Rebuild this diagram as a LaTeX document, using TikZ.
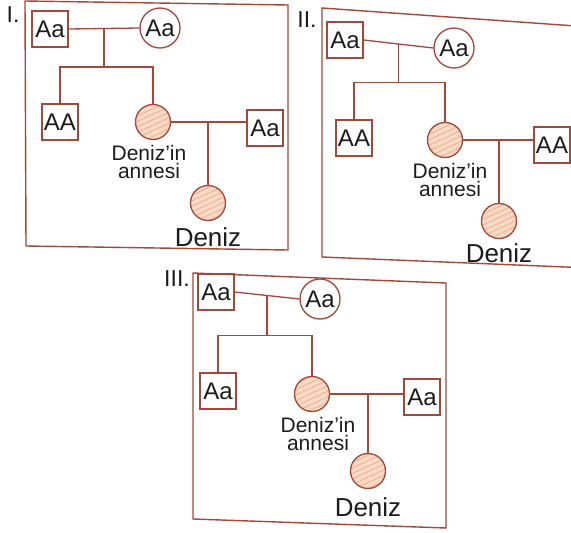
\documentclass[tikz,border=0pt]{standalone}
\usepackage{fontspec}
\setmainfont{Liberation Sans}
\usetikzlibrary{positioning,calc,patterns.meta}
\definecolor{pedline}{HTML}{A5473A}
\definecolor{pedfill}{HTML}{F8DAC4}
\definecolor{pedstripe}{HTML}{EDB294}
\definecolor{pedtext}{HTML}{1C1C1C}
\tikzset{
  male/.style={draw=pedline, line width=1.3pt, minimum width=36pt, minimum height=36pt,
               inner sep=1pt, font=\fontsize{24}{24}\selectfont, text=pedtext},
  female/.style={circle, draw=pedline, line width=1.3pt, minimum size=40pt,
                 inner sep=0pt, font=\fontsize{24}{24}\selectfont, text=pedtext},
  affected/.style={circle, draw=pedline, line width=1.3pt, minimum size=35pt,
                   preaction={fill=pedfill},
                   pattern={Lines[angle=25, distance=5pt, line width=0.9pt]}, pattern color=pedstripe},
  pedwire/.style={draw=pedline, line width=1.3pt},
  panelframe/.style={draw=pedline, line width=1.4pt},
  momlabel/.style={align=center, font=\fontsize{21}{18}\selectfont, text=pedtext, inner sep=0pt},
  kidlabel/.style={font=\fontsize{26}{26}\selectfont, text=pedtext, inner sep=0pt},
  panellabel/.style={font=\fontsize{23}{23}\selectfont, text=pedtext, inner sep=0pt},
}
\begin{document}
\begin{tikzpicture}[x=1pt, y=-1pt]
  \useasboundingbox[fill=white] (0,0) rectangle (571,533);
  \clip (0,0) rectangle (571,533);
  % frames
  \draw[panelframe] (25,1) -- (288,5) -- (288,250) -- (26,246) -- cycle;
  \draw[panelframe] (322,8) -- (590,27) -- (590,268) -- (322,257) -- cycle;
  \draw[panelframe] (193,273) -- (446,283) -- (446,528) -- (193,519) -- cycle;

  % panel I
  \node[panellabel] (n1) at (13,15) {I.};
  \node[male] (f1) at (50,29) {Aa};
  \node[female] (m1) at (160,28) {Aa};
  \node[male] (s1) at (60,122) {AA};
  \node[affected] (h1) at (153,122) {};
  \node[male] (r1) at (265,128) {Aa};
  \node[affected] (d1) at (208,203) {};
  \node[momlabel, below=5pt of h1, xshift=-4pt] (l1) {Deniz’in\\annesi};
  \node[kidlabel, below=6pt of d1] (k1) {Deniz};
  \coordinate (t1) at ($(f1.east)!0.5!(m1.west)$);
  \coordinate (j1) at ($(t1)+(0,38.5)$);
  \draw[pedwire] (f1.east) -- (m1.west);
  \draw[pedwire] (t1) -- (j1);
  \draw[pedwire] (s1.north) |- (j1) -| (h1.north);
  \draw[pedwire] (h1.east) -- (h1.east -| r1.west);
  \draw[pedwire] (d1.north |- h1.east) -- (d1.north);

  % panel II
  \node[panellabel] (n2) at (307,20) {II.};
  \node[male] (f2) at (345,40) {Aa};
  \node[female] (m2) at (454,48) {Aa};
  \node[male] (s2) at (354,138) {AA};
  \node[affected] (h2) at (445,140) {};
  \node[male] (r2) at (552,145) {AA};
  \node[affected] (d2) at (499,221) {};
  \node[momlabel, below=5pt of h2, xshift=5pt] (l2) {Deniz’in\\annesi};
  \node[kidlabel, below=4pt of d2] (k2) {Deniz};
  \coordinate (t2) at ($(f2.east)!0.5!(m2.west)$);
  \coordinate (j2) at ($(t2)+(0,38.5)$);
  \draw[pedwire] (f2.east) -- (m2.west);
  \draw[pedwire] (t2) -- (j2);
  \draw[pedwire] (s2.north) |- (j2) -| (h2.north);
  \draw[pedwire] (h2.east) -- (h2.east -| r2.west);
  \draw[pedwire] (d2.north |- h2.east) -- (d2.north);

  % panel III
  \node[panellabel] (n3) at (177,279) {III.};
  \node[male] (f3) at (216,292) {Aa};
  \node[female] (m3) at (320,299) {Aa};
  \node[male] (s3) at (218,391) {Aa};
  \node[affected] (h3) at (312,394) {};
  \node[male] (r3) at (422,397) {Aa};
  \node[affected] (d3) at (368,471) {};
  \node[momlabel, below=5pt of h3, xshift=6pt] (l3) {Deniz’in\\annesi};
  \node[kidlabel, below=8pt of d3] (k3) {Deniz};
  \coordinate (t3) at ($(f3.east)!0.5!(m3.west)$);
  \coordinate (j3) at ($(t3)+(0,40)$);
  \draw[pedwire] (f3.east) -- (m3.west);
  \draw[pedwire] (t3) -- (j3);
  \draw[pedwire] (s3.north) |- (j3) -| (h3.north);
  \draw[pedwire] (h3.east) -- (h3.east -| r3.west);
  \draw[pedwire] (d3.north |- h3.east) -- (d3.north);
\end{tikzpicture}
\end{document}
